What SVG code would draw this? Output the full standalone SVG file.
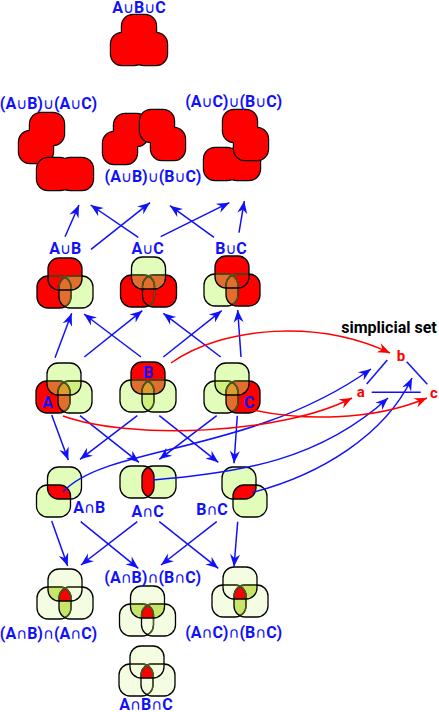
<svg xmlns="http://www.w3.org/2000/svg" width="439" height="712" viewBox="0 0 439 712">
<style>
.r{fill:#ff0000}.p{fill:#e2fcb9}.o{fill:#e26e2e}.m{fill:#cdf07e}.v{fill:#f4fde2}.a{fill:#dc9c2e}.g{fill:#c6e66a}
.k{fill:none;stroke:#000;stroke-width:1.3}
.d{fill:none;stroke:#4f5a22;stroke-width:1.3}
.u{fill:none;stroke:#000;stroke-width:2.4}
text{font-family:Roboto,"Liberation Sans",sans-serif;font-weight:700;font-size:16px;fill:#1010fa;text-anchor:middle}
tspan{font-family:"DejaVu Sans",sans-serif;font-weight:400;font-size:15px}
.rt{fill:#f00;font-size:15px}
.bk{fill:#000}
.cb{fill:none;stroke:#1010fa;stroke-width:1.5;marker-end:url(#ab)}
.cp{fill:none;stroke:#1010fa;stroke-width:1.5}
.cr{fill:none;stroke:#f00;stroke-width:1.5;marker-end:url(#ar)}
</style>
<defs>
<marker id="ab" viewBox="-13 -6 14 12" refX="0" refY="0" markerWidth="14" markerHeight="12" markerUnits="userSpaceOnUse" orient="auto"><path d="M0,0L-12.5,-5L-8.5,0L-12.5,5Z" fill="#1010fa"/></marker>
<marker id="ar" viewBox="-13 -6 14 12" refX="0" refY="0" markerWidth="14" markerHeight="12" markerUnits="userSpaceOnUse" orient="auto"><path d="M0,0L-12.5,-5L-8.5,0L-12.5,5Z" fill="#f00"/></marker>
<rect id="t" x="11" y="0" width="34" height="32" rx="11"/>
<rect id="l" x="0" y="18" width="34" height="32" rx="11"/>
<rect id="r" x="22" y="18" width="34" height="32" rx="11"/>
<clipPath id="ct"><rect x="11" y="0" width="34" height="32" rx="11"/></clipPath>
<clipPath id="cl"><rect x="0" y="18" width="34" height="32" rx="11"/></clipPath>
<clipPath id="cr"><rect x="22" y="18" width="34" height="32" rx="11"/></clipPath>
<g id="tl"><use href="#l" clip-path="url(#ct)"/></g>
<g id="tr"><use href="#r" clip-path="url(#ct)"/></g>
<g id="lr"><use href="#r" clip-path="url(#cl)"/></g>
<g id="tlr"><g clip-path="url(#ct)"><use href="#r" clip-path="url(#cl)"/></g></g>
<g id="vo">
<use href="#l" class="k"/><use href="#l" class="d" clip-path="url(#cr)"/>
<use href="#r" class="k"/><use href="#l" class="d" clip-path="url(#ct)"/><use href="#r" class="d" clip-path="url(#ct)"/>
<use href="#t" class="k"/>
</g>
</defs>

<g id="n-abc" transform="translate(111,15)"><use href="#t" class="u"/><use href="#l" class="u"/><use href="#r" class="u"/><use href="#t" class="r"/><use href="#l" class="r"/><use href="#r" class="r"/></g>
<g id="n-ab-ac"><g transform="translate(19,113)"><use href="#t" class="u"/><use href="#l" class="u"/><use href="#t" class="r"/><use href="#l" class="r"/></g><g transform="translate(37,140)"><use href="#l" class="u"/><use href="#r" class="u"/><use href="#l" class="r"/><use href="#r" class="r"/></g></g>
<g id="n-ab-bc"><g transform="translate(103,114)"><use href="#t" class="u"/><use href="#l" class="u"/><use href="#t" class="r"/><use href="#l" class="r"/></g><g transform="translate(129,110)"><use href="#t" class="u"/><use href="#r" class="u"/><use href="#t" class="r"/><use href="#r" class="r"/></g></g>
<g id="n-ac-bc"><g transform="translate(204,130)"><use href="#l" class="u"/><use href="#r" class="u"/><use href="#l" class="r"/><use href="#r" class="r"/></g><g transform="translate(212,110)"><use href="#t" class="u"/><use href="#r" class="u"/><use href="#t" class="r"/><use href="#r" class="r"/></g></g>

<g id="n-aub" transform="translate(37,258)"><use href="#t" class="r"/><use href="#l" class="r"/><use href="#r" class="p"/><use href="#tr" class="o"/><use href="#lr" class="o"/><use href="#vo"/></g>
<g id="n-auc" transform="translate(120.5,257)"><use href="#t" class="p"/><use href="#l" class="r"/><use href="#r" class="r"/><use href="#tl" class="o"/><use href="#tr" class="o"/><use href="#lr" class="r"/><use href="#tlr" class="o"/><use href="#vo"/></g>
<g id="n-buc" transform="translate(204,256)"><use href="#t" class="r"/><use href="#l" class="p"/><use href="#r" class="r"/><use href="#tl" class="o"/><use href="#lr" class="o"/><use href="#tlr" class="o"/><use href="#vo"/></g>

<g id="n-a" transform="translate(36,363)"><use href="#t" class="p"/><use href="#l" class="r"/><use href="#r" class="p"/><use href="#tl" class="o"/><use href="#lr" class="o"/><use href="#tr" class="m"/><use href="#tlr" class="a"/><use href="#vo"/></g>
<g id="n-b" transform="translate(120,362)"><use href="#t" class="r"/><use href="#l" class="p"/><use href="#r" class="p"/><use href="#tl" class="o"/><use href="#tr" class="o"/><use href="#lr" class="m"/><use href="#tlr" class="a"/><use href="#vo"/></g>
<g id="n-c" transform="translate(204,363)"><use href="#t" class="p"/><use href="#l" class="p"/><use href="#r" class="r"/><use href="#tl" class="m"/><use href="#tr" class="o"/><use href="#lr" class="o"/><use href="#tlr" class="a"/><use href="#vo"/></g>

<g id="n-anb" transform="translate(36.5,467)"><use href="#t" class="p"/><use href="#l" class="p"/><use href="#tl" class="r"/><use href="#l" class="k"/><use href="#t" class="k"/></g>
<g id="n-anc" transform="translate(120,448)"><use href="#l" class="p"/><use href="#r" class="p"/><use href="#lr" class="r"/><use href="#l" class="k"/><use href="#r" class="k"/></g>
<g id="n-bnc" transform="translate(211,467)"><use href="#t" class="p"/><use href="#r" class="p"/><use href="#tr" class="r"/><use href="#t" class="k"/><use href="#r" class="k"/></g>

<g id="n-ab-ac-i" transform="translate(37,569)"><use href="#t" class="v"/><use href="#l" class="v"/><use href="#r" class="v"/><use href="#tl" class="g"/><use href="#lr" class="g"/><use href="#tlr" class="r"/><use href="#vo"/></g>
<g id="n-ab-bc-i" transform="translate(119.5,586)"><use href="#t" class="v"/><use href="#l" class="v"/><use href="#r" class="v"/><use href="#tl" class="g"/><use href="#tr" class="g"/><use href="#tlr" class="r"/><use href="#vo"/></g>
<g id="n-ac-bc-i" transform="translate(212,567)"><use href="#t" class="v"/><use href="#l" class="v"/><use href="#r" class="v"/><use href="#tr" class="g"/><use href="#lr" class="g"/><use href="#tlr" class="r"/><use href="#vo"/></g>
<g id="n-anbnc" transform="translate(119,646)"><use href="#t" class="v"/><use href="#l" class="v"/><use href="#r" class="v"/><use href="#tlr" class="r"/><use href="#vo"/></g>

<g id="connectors">
<path class="cb" d="M65,236.7L79,205"/>
<path class="cb" d="M91,249.3L150,202.7"/>
<path class="cb" d="M138.3,237.3L90.7,205"/>
<path class="cb" d="M160.7,236.7L229.3,202.7"/>
<path class="cb" d="M214,237.3L170,205.7"/>
<path class="cb" d="M239,232.7L244.3,201"/>
<path class="cb" d="M55,357.7L71.7,313.3"/>
<path class="cb" d="M84.3,357L142.3,310.7"/>
<path class="cb" d="M141,357L84,314"/>
<path class="cb" d="M163.3,357L221.7,310.7"/>
<path class="cb" d="M220.7,357L163.3,313.3"/>
<path class="cb" d="M241,357L237.7,310"/>
<path class="cb" d="M51.7,415L68.3,460"/>
<path class="cb" d="M80,415.7L139,462.3"/>
<path class="cb" d="M137.3,415.7L80,459.3"/>
<path class="cb" d="M159.3,415.7L218.3,462.3"/>
<path class="cb" d="M216.7,415.7L159.3,459.3"/>
<path class="cb" d="M237.3,415.7L234,463.3"/>
<path class="cb" d="M51.7,521L67.7,566"/>
<path class="cb" d="M80.7,521.7L138.3,568.3"/>
<path class="cb" d="M137.3,521.7L81,565"/>
<path class="cb" d="M159.3,521.7L218.3,568.3"/>
<path class="cb" d="M216.7,521.7L161,565"/>
<path class="cb" d="M237.7,521.7L234,566.7"/>
<path class="cb" d="M63,492C105,445 250,455 371,369"/>
<path class="cb" d="M153,480C240,473 320,460 388,398"/>
<path class="cb" d="M252,492.5C320,475 385,435 412,378"/>
<path class="cr" d="M171,363C225,325 320,320 390,353"/>
<path class="cr" d="M63,416C130,440 280,435 352,398"/>
<path class="cr" d="M253,410C300,420 370,422 427,398"/>
<path class="cp" d="M406.7,361.7L427.3,384.3"/>
<path class="cp" d="M366.7,384L387.3,360"/>
<path class="cp" d="M371.7,392.3H420.7"/>
</g>

<g id="labels">
<text x="139" y="12.5">A<tspan>∪</tspan>B<tspan>∪</tspan>C</text>
<text x="48.5" y="109">(A<tspan>∪</tspan>B)<tspan>∪</tspan>(A<tspan>∪</tspan>C)</text>
<text x="233.7" y="106.7">(A<tspan>∪</tspan>C)<tspan>∪</tspan>(B<tspan>∪</tspan>C)</text>
<text x="153" y="181.7">(A<tspan>∪</tspan>B)<tspan>∪</tspan>(B<tspan>∪</tspan>C)</text>
<text x="65.3" y="254">A<tspan>∪</tspan>B</text>
<text x="147.7" y="254">A<tspan>∪</tspan>C</text>
<text x="231" y="254">B<tspan>∪</tspan>C</text>
<text x="47.7" y="408">A</text>
<text x="148.3" y="377.7">B</text>
<text x="249.3" y="407.7">C</text>
<text x="89.3" y="512.7">A<tspan>∩</tspan>B</text>
<text x="147.7" y="517.3">A<tspan>∩</tspan>C</text>
<text x="212" y="515.3">B<tspan>∩</tspan>C</text>
<text x="152.7" y="582.7">(A<tspan>∩</tspan>B)<tspan>∩</tspan>(B<tspan>∩</tspan>C)</text>
<text x="48.5" y="639.3">(A<tspan>∩</tspan>B)<tspan>∩</tspan>(A<tspan>∩</tspan>C)</text>
<text x="233.7" y="637.7">(A<tspan>∩</tspan>C)<tspan>∩</tspan>(B<tspan>∩</tspan>C)</text>
<text x="146" y="710">A<tspan>∩</tspan>B<tspan>∩</tspan>C</text>
<text class="bk" x="389" y="333.3">simplicial set</text>
<text class="rt" x="360.7" y="397.3">a</text>
<text class="rt" x="401" y="360.7">b</text>
<text class="rt" x="434" y="397.7">c</text>
</g>
</svg>
